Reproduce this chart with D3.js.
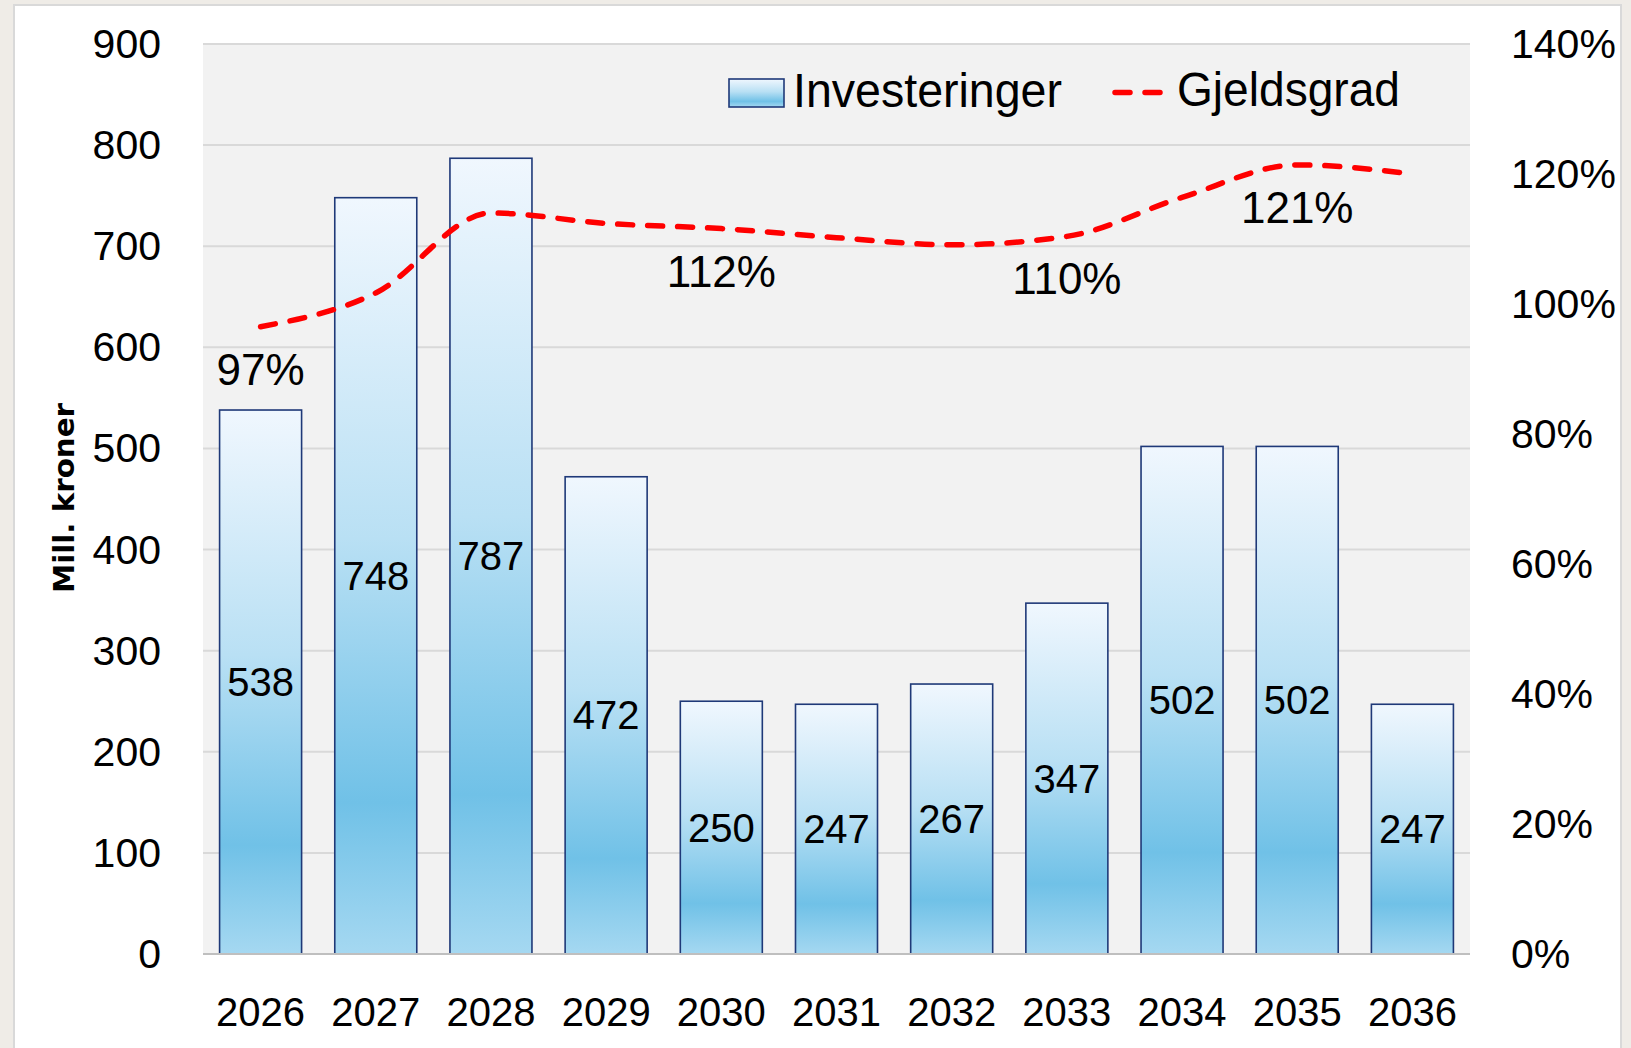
<!DOCTYPE html>
<html>
<head>
<meta charset="utf-8">
<script src="https://cdn.jsdelivr.net/npm/d3@7"></script>
<style>
  html, body { margin: 0; padding: 0; background: #efece7; }
  svg { display: block; }
</style>
</head>
<body>
<svg id="chart" width="1631" height="1048"></svg>
<script>
// ---- data ----
const years = ["2026","2027","2028","2029","2030","2031","2032","2033","2034","2035","2036"];
const investeringer = [538, 748, 787, 472, 250, 247, 267, 347, 502, 502, 247];
const gjeldsgrad = [0.965, 1.017, 1.14, 1.124, 1.116, 1.102, 1.091, 1.104, 1.164, 1.214, 1.200];
const gjeldsgradLabels = ["97%", null, null, null, "112%", null, null, "110%", null, "121%", null];
const leftTicks = [0, 100, 200, 300, 400, 500, 600, 700, 800, 900];
const rightTicks = [0, 0.2, 0.4, 0.6, 0.8, 1.0, 1.2, 1.4];
const seriesNames = ["Investeringer", "Gjeldsgrad"];
const yTitle = "Mill. kroner";

// ---- layout ----
const svg = d3.select("#chart");
const plot = { left: 203, right: 1470, top: 44, bottom: 954 };
const font = "'Liberation Sans', Arial, sans-serif";

// panel
svg.append("rect").attr("x", 14).attr("y", 5).attr("width", 1607).attr("height", 1060)
  .attr("fill", "#ffffff").attr("stroke", "#d9d9d9").attr("stroke-width", 2);

// plot background
svg.append("rect").attr("x", plot.left).attr("y", plot.top)
  .attr("width", plot.right - plot.left).attr("height", plot.bottom - plot.top)
  .attr("fill", "#f2f2f2");

const x = d3.scaleBand().domain(years).range([plot.left, plot.right])
  .paddingInner(0.288).paddingOuter(0.144);
const y = d3.scaleLinear().domain([0, 900]).range([plot.bottom, plot.top]);
const y2 = d3.scaleLinear().domain([0, 1.4]).range([plot.bottom, plot.top]);

// gridlines
svg.append("g").selectAll("line").data(leftTicks.filter(d => d > 0)).join("line")
  .attr("x1", plot.left).attr("x2", plot.right)
  .attr("y1", d => y(d)).attr("y2", d => y(d))
  .attr("stroke", "#d9d9d9").attr("stroke-width", 2);

// gradient
const defs = svg.append("defs");
const grad = defs.append("linearGradient").attr("id", "barGrad")
  .attr("x1", 0).attr("y1", 0).attr("x2", 0).attr("y2", 1);
grad.append("stop").attr("offset", "0%").attr("stop-color", "#f0f7fe");
grad.append("stop").attr("offset", "45%").attr("stop-color", "#b9e0f4");
grad.append("stop").attr("offset", "80%").attr("stop-color", "#70c1e7");
grad.append("stop").attr("offset", "100%").attr("stop-color", "#a5d8f1");

// bars
svg.append("g").selectAll("rect").data(years).join("rect")
  .attr("x", d => x(d))
  .attr("y", (d, i) => y(investeringer[i]))
  .attr("width", x.bandwidth())
  .attr("height", (d, i) => y(0) - y(investeringer[i]))
  .attr("fill", "url(#barGrad)")
  .attr("stroke", "#1f3978").attr("stroke-width", 1.6);

// x axis baseline
svg.append("line").attr("x1", plot.left).attr("x2", plot.right)
  .attr("y1", plot.bottom).attr("y2", plot.bottom)
  .attr("stroke", "#bfbfbf").attr("stroke-width", 2);

// bar labels
svg.append("g").selectAll("text").data(years).join("text")
  .attr("x", d => x(d) + x.bandwidth() / 2)
  .attr("y", (d, i) => (y(investeringer[i]) + y(0)) / 2 + 14)
  .attr("text-anchor", "middle")
  .attr("font-family", font).attr("font-size", 40).attr("fill", "#000")
  .text((d, i) => investeringer[i]);

// line
const line = d3.line()
  .x((d, i) => x(years[i]) + x.bandwidth() / 2)
  .y(d => y2(d))
  .curve(d3.curveMonotoneX);
svg.append("path").datum(gjeldsgrad)
  .attr("d", line)
  .attr("fill", "none").attr("stroke", "#ff0000").attr("stroke-width", 5.5)
  .attr("stroke-linecap", "round").attr("stroke-dasharray", "15,15");

// line labels
svg.append("g").selectAll("text").data(years.filter((d, i) => gjeldsgradLabels[i]))
  .join("text")
  .attr("x", d => x(d) + x.bandwidth() / 2)
  .attr("y", d => y2(gjeldsgrad[years.indexOf(d)]) + 58)
  .attr("text-anchor", "middle")
  .attr("font-family", font).attr("font-size", 44).attr("fill", "#000")
  .text(d => gjeldsgradLabels[years.indexOf(d)]);

// left axis labels
svg.append("g").selectAll("text").data(leftTicks).join("text")
  .attr("x", 161).attr("y", d => y(d) + 14)
  .attr("text-anchor", "end")
  .attr("font-family", font).attr("font-size", 41).attr("fill", "#000")
  .text(d => d);

// right axis labels
svg.append("g").selectAll("text").data(rightTicks).join("text")
  .attr("x", 1511).attr("y", d => y2(d) + 14)
  .attr("text-anchor", "start")
  .attr("font-family", font).attr("font-size", 41).attr("fill", "#000")
  .text(d => d3.format(".0%")(d));

// x axis labels
svg.append("g").selectAll("text").data(years).join("text")
  .attr("x", d => x(d) + x.bandwidth() / 2).attr("y", 1026)
  .attr("text-anchor", "middle")
  .attr("font-family", font).attr("font-size", 40).attr("fill", "#000")
  .text(d => d);

// y title
svg.append("text")
  .attr("transform", "translate(74,498) rotate(-90)")
  .attr("text-anchor", "middle")
  .attr("font-family", "'DejaVu Sans', sans-serif").attr("font-weight", "bold")
  .attr("font-size", 28).attr("fill", "#000")
  .attr("textLength", 190).attr("lengthAdjust", "spacingAndGlyphs")
  .text(yTitle);

// legend
const lg = svg.append("g");
lg.append("rect").attr("x", 729).attr("y", 79).attr("width", 55).attr("height", 28)
  .attr("fill", "url(#barGrad)").attr("stroke", "#1f3978").attr("stroke-width", 1.6);
lg.append("text").attr("x", 793).attr("y", 107)
  .attr("font-family", "'Liberation Sans Narrow', 'Liberation Sans', sans-serif")
  .attr("font-size", 48).attr("fill", "#000")
  .attr("textLength", 269).attr("lengthAdjust", "spacingAndGlyphs")
  .text(seriesNames[0]);
lg.append("line").attr("x1", 1115).attr("x2", 1160).attr("y1", 92.5).attr("y2", 92.5)
  .attr("stroke", "#ff0000").attr("stroke-width", 5.5)
  .attr("stroke-linecap", "round").attr("stroke-dasharray", "15,15");
lg.append("text").attr("x", 1177).attr("y", 106)
  .attr("font-family", "'Liberation Sans Narrow', 'Liberation Sans', sans-serif")
  .attr("font-size", 48).attr("fill", "#000")
  .attr("textLength", 223).attr("lengthAdjust", "spacingAndGlyphs")
  .text(seriesNames[1]);
</script>
</body>
</html>
